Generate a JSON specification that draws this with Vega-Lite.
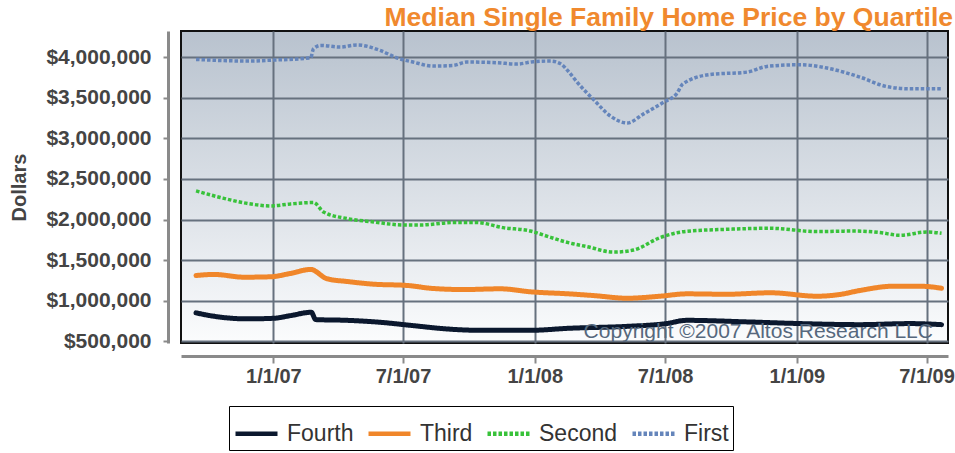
{
  "$schema": "https://vega.github.io/schema/vega-lite/v6.json",
  "width": 767,
  "height": 312,
  "autosize": {"type": "none"},
  "padding": {"left": 181, "top": 31, "right": 7, "bottom": 110},
  "background": "white",
  "config": {
    "font": "Liberation Sans",
    "view": {
      "stroke": "#111111",
      "strokeWidth": 2,
      "fill": {"gradient": "linear", "x1": 0, "y1": 0, "x2": 0, "y2": 1, "stops": [{"offset": 0, "color": "#b8c2ce"}, {"offset": 1, "color": "#fbfcfd"}]}
    }
  },
  "title": {
    "text": "Median Single Family Home Price by Quartile",
    "anchor": "end",
    "frame": "group",
    "font": "Liberation Sans",
    "fontSize": 26.5,
    "fontWeight": "bold",
    "color": "#f0892e",
    "offset": 0,
    "dx": 5
  },
  "datasets": {
    "prices": [
      {"d": "2006-09-15", "q": "First", "v": 3970000},
      {"d": "2006-11-26", "q": "First", "v": 3950000},
      {"d": "2007-01-01", "q": "First", "v": 3962000},
      {"d": "2007-02-22", "q": "First", "v": 3990000},
      {"d": "2007-02-26", "q": "First", "v": 4100000},
      {"d": "2007-03-08", "q": "First", "v": 4143000},
      {"d": "2007-04-04", "q": "First", "v": 4123000},
      {"d": "2007-04-28", "q": "First", "v": 4148000},
      {"d": "2007-05-30", "q": "First", "v": 4081000},
      {"d": "2007-06-23", "q": "First", "v": 3987000},
      {"d": "2007-07-15", "q": "First", "v": 3938000},
      {"d": "2007-08-12", "q": "First", "v": 3888000},
      {"d": "2007-09-09", "q": "First", "v": 3896000},
      {"d": "2007-09-28", "q": "First", "v": 3938000},
      {"d": "2007-11-09", "q": "First", "v": 3930000},
      {"d": "2007-12-07", "q": "First", "v": 3913000},
      {"d": "2007-12-30", "q": "First", "v": 3942000},
      {"d": "2008-01-23", "q": "First", "v": 3950000},
      {"d": "2008-02-06", "q": "First", "v": 3917000},
      {"d": "2008-02-17", "q": "First", "v": 3822000},
      {"d": "2008-02-29", "q": "First", "v": 3691000},
      {"d": "2008-03-23", "q": "First", "v": 3476000},
      {"d": "2008-04-16", "q": "First", "v": 3271000},
      {"d": "2008-05-09", "q": "First", "v": 3188000},
      {"d": "2008-06-01", "q": "First", "v": 3300000},
      {"d": "2008-06-29", "q": "First", "v": 3444000},
      {"d": "2008-07-17", "q": "First", "v": 3547000},
      {"d": "2008-07-26", "q": "First", "v": 3670000},
      {"d": "2008-09-02", "q": "First", "v": 3785000},
      {"d": "2008-10-23", "q": "First", "v": 3814000},
      {"d": "2008-11-20", "q": "First", "v": 3884000},
      {"d": "2009-01-06", "q": "First", "v": 3905000},
      {"d": "2009-02-12", "q": "First", "v": 3864000},
      {"d": "2009-03-30", "q": "First", "v": 3753000},
      {"d": "2009-05-06", "q": "First", "v": 3637000},
      {"d": "2009-06-08", "q": "First", "v": 3608000},
      {"d": "2009-07-22", "q": "First", "v": 3608000},

      {"d": "2006-09-15", "q": "Second", "v": 2352000},
      {"d": "2006-10-19", "q": "Second", "v": 2271000},
      {"d": "2006-11-26", "q": "Second", "v": 2197000},
      {"d": "2006-12-28", "q": "Second", "v": 2167000},
      {"d": "2007-01-25", "q": "Second", "v": 2192000},
      {"d": "2007-02-26", "q": "Second", "v": 2209000},
      {"d": "2007-03-12", "q": "Second", "v": 2093000},
      {"d": "2007-04-14", "q": "Second", "v": 2011000},
      {"d": "2007-05-21", "q": "Second", "v": 1970000},
      {"d": "2007-07-02", "q": "Second", "v": 1932000},
      {"d": "2007-07-25", "q": "Second", "v": 1932000},
      {"d": "2007-09-09", "q": "Second", "v": 1962000},
      {"d": "2007-10-12", "q": "Second", "v": 1962000},
      {"d": "2007-11-18", "q": "Second", "v": 1900000},
      {"d": "2007-12-26", "q": "Second", "v": 1858000},
      {"d": "2008-01-23", "q": "Second", "v": 1780000},
      {"d": "2008-02-17", "q": "Second", "v": 1715000},
      {"d": "2008-03-14", "q": "Second", "v": 1666000},
      {"d": "2008-04-20", "q": "Second", "v": 1599000},
      {"d": "2008-05-18", "q": "Second", "v": 1624000},
      {"d": "2008-06-24", "q": "Second", "v": 1777000},
      {"d": "2008-07-31", "q": "Second", "v": 1855000},
      {"d": "2008-09-25", "q": "Second", "v": 1879000},
      {"d": "2008-11-25", "q": "Second", "v": 1892000},
      {"d": "2009-01-29", "q": "Second", "v": 1851000},
      {"d": "2009-03-21", "q": "Second", "v": 1858000},
      {"d": "2009-04-27", "q": "Second", "v": 1839000},
      {"d": "2009-05-25", "q": "Second", "v": 1805000},
      {"d": "2009-07-01", "q": "Second", "v": 1846000},
      {"d": "2009-07-22", "q": "Second", "v": 1830000},

      {"d": "2006-09-15", "q": "Third", "v": 1311000},
      {"d": "2006-10-10", "q": "Third", "v": 1324000},
      {"d": "2006-11-21", "q": "Third", "v": 1290000},
      {"d": "2006-12-28", "q": "Third", "v": 1295000},
      {"d": "2007-01-25", "q": "Third", "v": 1336000},
      {"d": "2007-02-22", "q": "Third", "v": 1385000},
      {"d": "2007-03-17", "q": "Third", "v": 1270000},
      {"d": "2007-04-14", "q": "Third", "v": 1237000},
      {"d": "2007-05-21", "q": "Third", "v": 1204000},
      {"d": "2007-07-07", "q": "Third", "v": 1188000},
      {"d": "2007-08-12", "q": "Third", "v": 1151000},
      {"d": "2007-09-24", "q": "Third", "v": 1138000},
      {"d": "2007-11-14", "q": "Third", "v": 1147000},
      {"d": "2007-12-26", "q": "Third", "v": 1110000},
      {"d": "2008-02-17", "q": "Third", "v": 1085000},
      {"d": "2008-03-23", "q": "Third", "v": 1064000},
      {"d": "2008-05-09", "q": "Third", "v": 1031000},
      {"d": "2008-06-24", "q": "Third", "v": 1056000},
      {"d": "2008-07-31", "q": "Third", "v": 1085000},
      {"d": "2008-09-25", "q": "Third", "v": 1080000},
      {"d": "2008-11-25", "q": "Third", "v": 1098000},
      {"d": "2009-01-29", "q": "Third", "v": 1056000},
      {"d": "2009-03-02", "q": "Third", "v": 1077000},
      {"d": "2009-03-30", "q": "Third", "v": 1126000},
      {"d": "2009-05-16", "q": "Third", "v": 1179000},
      {"d": "2009-06-22", "q": "Third", "v": 1179000},
      {"d": "2009-07-22", "q": "Third", "v": 1154000},

      {"d": "2006-09-15", "q": "Fourth", "v": 851000},
      {"d": "2006-10-10", "q": "Fourth", "v": 809000},
      {"d": "2006-11-26", "q": "Fourth", "v": 777000},
      {"d": "2007-01-01", "q": "Fourth", "v": 784000},
      {"d": "2007-01-25", "q": "Fourth", "v": 817000},
      {"d": "2007-02-23", "q": "Fourth", "v": 858000},
      {"d": "2007-03-01", "q": "Fourth", "v": 768000},
      {"d": "2007-04-14", "q": "Fourth", "v": 759000},
      {"d": "2007-05-30", "q": "Fourth", "v": 735000},
      {"d": "2007-07-15", "q": "Fourth", "v": 694000},
      {"d": "2007-08-31", "q": "Fourth", "v": 653000},
      {"d": "2007-10-17", "q": "Fourth", "v": 636000},
      {"d": "2007-12-26", "q": "Fourth", "v": 636000},
      {"d": "2008-02-17", "q": "Fourth", "v": 661000},
      {"d": "2008-05-09", "q": "Fourth", "v": 685000},
      {"d": "2008-07-03", "q": "Fourth", "v": 719000},
      {"d": "2008-07-31", "q": "Fourth", "v": 759000},
      {"d": "2008-10-23", "q": "Fourth", "v": 740000},
      {"d": "2009-01-06", "q": "Fourth", "v": 719000},
      {"d": "2009-03-30", "q": "Fourth", "v": 706000},
      {"d": "2009-06-08", "q": "Fourth", "v": 719000},
      {"d": "2009-07-22", "q": "Fourth", "v": 706000}
    ],
    "note": [{"label": "Copyright ©2007 Altos Research LLC"}]
  },
  "layer": [
    {
      "data": {"name": "prices"},
      "transform": [{"filter": {"field": "q", "oneOf": ["Fourth", "Third"]}}],
      "mark": {"type": "line", "interpolate": "monotone", "strokeWidth": 5, "strokeCap": "round", "strokeJoin": "round"},
      "encoding": {
        "x": {
          "field": "d",
          "type": "temporal",
          "scale": {
            "type": "utc",
            "domain": [
              {"year": 2006, "month": 8, "date": 25, "utc": true},
              {"year": 2009, "month": 7, "date": 31, "utc": true}
            ]
          },
          "axis": {
            "title": null,
            "values": [
              {"year": 2007, "month": 1, "date": 1, "utc": true},
              {"year": 2007, "month": 7, "date": 1, "utc": true},
              {"year": 2008, "month": 1, "date": 1, "utc": true},
              {"year": 2008, "month": 7, "date": 1, "utc": true},
              {"year": 2009, "month": 1, "date": 1, "utc": true},
              {"year": 2009, "month": 7, "date": 1, "utc": true}
            ],
            "format": "%-m/%-d/%y",
            "offset": 13,
            "domainColor": "#8a8a8a",
            "domainWidth": 3,
            "tickColor": "#8a8a8a",
            "tickWidth": 2,
            "tickSize": 7,
            "labelFont": "Liberation Sans",
            "labelFontWeight": "bold",
            "labelFontSize": 20,
            "labelColor": "#444444",
            "labelPadding": 3,
            "labelFlush": false,
            "labelOverlap": false,
            "grid": true,
            "gridColor": "#66717e",
            "gridWidth": 2,
            "gridOpacity": 1
          }
        },
        "y": {
          "field": "v",
          "type": "quantitative",
          "scale": {"domain": [480000, 4320000], "nice": false, "zero": false},
          "axis": {
            "title": "Dollars",
            "titleFont": "Liberation Sans",
            "titleFontSize": 20,
            "titleFontWeight": "bold",
            "titleColor": "#444444",
            "titlePadding": 16,
            "values": [500000, 1000000, 1500000, 2000000, 2500000, 3000000, 3500000, 4000000],
            "format": "$,.0f",
            "offset": 13,
            "domainColor": "#8a8a8a",
            "domainWidth": 3,
            "tickColor": "#8a8a8a",
            "tickWidth": 2,
            "tickSize": 5,
            "labelFont": "Liberation Sans",
            "labelFontWeight": "bold",
            "labelFontSize": 21,
            "labelColor": "#444444",
            "labelPadding": 12,
            "grid": true,
            "gridColor": "#66717e",
            "gridWidth": 2,
            "gridOpacity": 1
          }
        },
        "color": {
          "field": "q",
          "type": "nominal",
          "scale": {
            "domain": ["Fourth", "Third", "Second", "First"],
            "range": ["#0b182e", "#f0862a", "#38c23a", "#6585bb"]
          },
          "legend": {
            "orient": "none",
            "legendX": 48,
            "legendY": 375,
            "direction": "horizontal",
            "title": null,
            "symbolType": "stroke",
            "symbolSize": 1764,
            "symbolStrokeWidth": 4.5,
            "labelFont": "Liberation Sans",
            "labelFontSize": 23,
            "labelColor": "#333333",
            "labelOffset": 7,
            "labelLimit": 0,
            "columnPadding": 5,
            "padding": 4,
            "strokeColor": "#000000",
            "fillColor": "#ffffff"
          }
        },
        "strokeDash": {
          "field": "q",
          "type": "nominal",
          "scale": {
            "domain": ["Fourth", "Third", "Second", "First"],
            "range": [[1, 0], [1, 0], [3.5, 2], [3.5, 2]]
          }
        }
      }
    },
    {
      "data": {"name": "prices"},
      "transform": [{"filter": {"field": "q", "oneOf": ["Second", "First"]}}],
      "mark": {"type": "line", "interpolate": "monotone", "strokeWidth": 3.5},
      "encoding": {
        "x": {"field": "d", "type": "temporal"},
        "y": {"field": "v", "type": "quantitative"},
        "color": {"field": "q", "type": "nominal"},
        "strokeDash": {"field": "q", "type": "nominal"}
      }
    },
    {
      "data": {"name": "note"},
      "mark": {"type": "text", "align": "right", "baseline": "alphabetic", "font": "Liberation Sans", "fontSize": 21, "fill": "#56687d"},
      "encoding": {
        "x": {"datum": 1247184000000, "type": "temporal"},
        "y": {"datum": 545000, "type": "quantitative"},
        "text": {"field": "label", "type": "nominal"}
      }
    }
  ]
}
